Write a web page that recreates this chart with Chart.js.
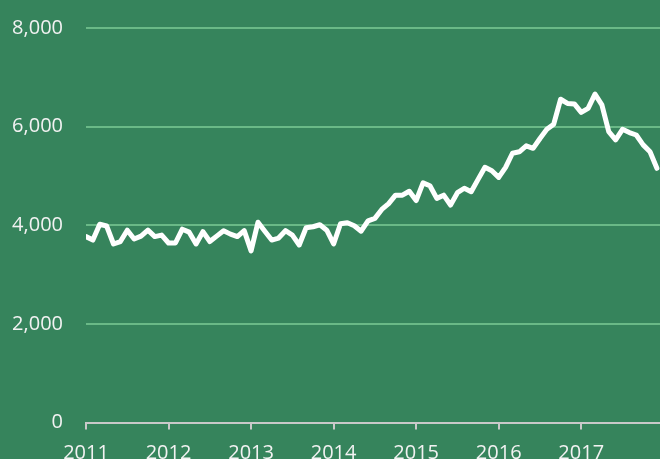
<!DOCTYPE html>
<html>
<head>
<meta charset="utf-8">
<script src="https://cdn.jsdelivr.net/npm/chart.js@4/dist/chart.umd.min.js"></script>
<style>
  html, body { margin: 0; padding: 0; background: #36845c; }
  #wrap { width: 660px; height: 459px; position: relative; }
</style>
</head>
<body>
<div id="wrap"><canvas id="c" width="660" height="459"></canvas></div>
<script>
const yearLabels = ["2011", "2012", "2013", "2014", "2015", "2016", "2017"];
const v2011 = [3770, 3700, 4020, 3985, 3620, 3670, 3900, 3720, 3780, 3900, 3770, 3800];
const v2012 = [3640, 3640, 3920, 3860, 3620, 3870, 3670, 3780, 3890, 3820, 3770, 3890];
const v2013 = [3480, 4060, 3880, 3700, 3740, 3890, 3800, 3600, 3950, 3970, 4010, 3900];
const v2014 = [3620, 4030, 4050, 3990, 3880, 4090, 4140, 4320, 4440, 4610, 4610, 4690];
const v2015 = [4500, 4860, 4800, 4545, 4610, 4410, 4660, 4750, 4680, 4930, 5175, 5105];
const v2016 = [4970, 5175, 5460, 5490, 5610, 5560, 5760, 5945, 6050, 6555, 6470, 6460];
const v2017 = [6290, 6370, 6660, 6440, 5900, 5730, 5945, 5880, 5830, 5630, 5490, 5155];
const yTicks = [0, 2000, 4000, 6000, 8000];

const series = [v2011, v2012, v2013, v2014, v2015, v2016, v2017];
const points = [];
series.forEach((arr, y) => arr.forEach((v, m) => points.push({ x: y * 12 + m, y: v })));

new Chart(document.getElementById('c'), {
  type: 'line',
  data: {
    datasets: [{
      data: points,
      borderColor: '#ffffff',
      borderWidth: 5,
      pointRadius: 0,
      tension: 0,
      borderJoinStyle: 'round',
      borderCapStyle: 'round'
    }]
  },
  options: {
    responsive: false,
    animation: false,
    layout: { padding: { top: 28, right: 0, bottom: 0, left: 0 } },
    plugins: { legend: { display: false }, tooltip: { enabled: false } },
    scales: {
      x: {
        type: 'linear',
        min: 0,
        max: 83.45,
        afterBuildTicks: (s) => { s.ticks = yearLabels.map((_, i) => ({ value: i * 12 })); },
        afterFit: (s) => { s.height = 36.5; s.paddingLeft = 0; s.paddingRight = 0; },
        ticks: {
          autoSkip: false,
          maxRotation: 0,
          padding: 12,
          color: '#f2f2f2',
          font: { family: 'Open Sans', size: 20 },
          callback: (v) => yearLabels[Math.round(v / 12)]
        },
        grid: { drawOnChartArea: false, drawTicks: true, tickLength: 7, tickColor: '#c9c9c9', lineWidth: 2 },
        border: { display: true, color: '#c9c9c9', width: 2 }
      },
      y: {
        min: 0,
        max: 8000,
        afterBuildTicks: (s) => { s.ticks = yTicks.map(v => ({ value: v })); },
        afterFit: (s) => { s.width = 86; s.paddingTop = 0; s.paddingBottom = 0; },
        ticks: {
          padding: 23,
          color: '#f2f2f2',
          font: { family: 'Open Sans', size: 20 },
          callback: (v) => v.toLocaleString('en-US')
        },
        grid: {
          drawTicks: false,
          lineWidth: 2,
          color: (ctx) => ctx.tick && ctx.tick.value === 0 ? 'rgba(0,0,0,0)' : '#6ab987'
        },
        border: { display: false }
      }
    }
  }
});
</script>
</body>
</html>
